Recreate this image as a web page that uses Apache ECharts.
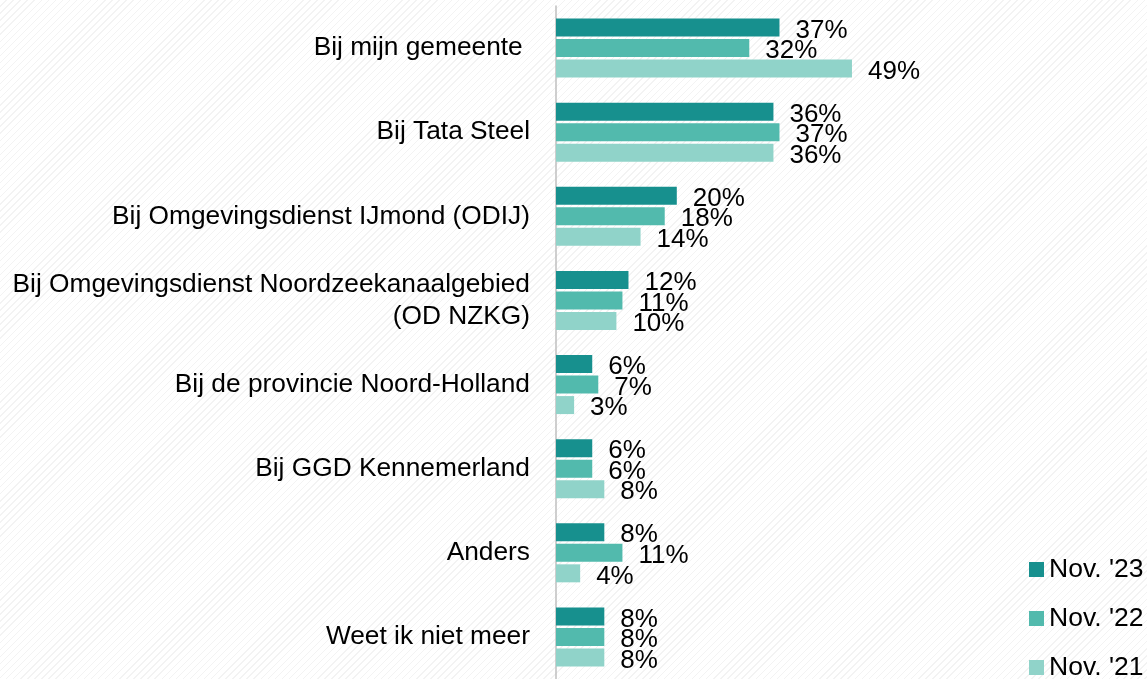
<!DOCTYPE html>
<html>
<head>
<meta charset="utf-8">
<script src="https://cdn.jsdelivr.net/npm/echarts@6/dist/echarts.min.js"></script>
<style>
html, body { margin: 0; padding: 0; }
body {
    background: #fff repeating-linear-gradient(135deg, #fff 0px, #fff 4px, #f3f3f3 4px, #f3f3f3 5px);
}
#main { width: 1147px; height: 679px; }
</style>
</head>
<body>
<div id="main"></div>
<script>
var categories = [
    'Bij mijn gemeente ',
    'Bij Tata Steel',
    'Bij Omgevingsdienst IJmond (ODIJ)',
    'Bij Omgevingsdienst Noordzeekanaalgebied\n(OD NZKG)',
    'Bij de provincie Noord-Holland',
    'Bij GGD Kennemerland',
    'Anders',
    'Weet ik niet meer'
];
var nov23 = [37, 36, 20, 12, 6, 6, 8, 8];
var nov22 = [32, 37, 18, 11, 7, 6, 11, 8];
var nov21 = [49, 36, 14, 10, 3, 8, 4, 8];
var seriesNames = ["Nov. '23", "Nov. '22", "Nov. '21"];
var colors = ['#17908e', '#52baad', '#90d3c9'];

var myChart = echarts.init(document.getElementById('main'));

function barSeries(name, data, color) {
    return {
        name: name,
        type: 'bar',
        data: data,
        barWidth: 18,
        barGap: '14%',
        itemStyle: { color: color },
        label: {
            show: true,
            position: 'right',
            distance: 16,
            offset: [0, 3],
            formatter: '{c}%',
            color: '#000',
            fontFamily: 'Liberation Sans, Arial',
            fontSize: 26
        }
    };
}

var option = {
    animation: false,
    color: colors,
    grid: { left: 556, top: 6, width: 302, bottom: -7 },
    legend: {
        orient: 'vertical',
        left: 1029,
        top: 556,
        height: 160,
        padding: 0,
        itemWidth: 15,
        itemHeight: 15,
        itemGap: 22,
        icon: 'rect',
        textStyle: { fontFamily: 'Liberation Sans, Arial', fontSize: 26.5, color: '#000' },
        data: seriesNames
    },
    xAxis: {
        type: 'value',
        min: 0,
        max: 50,
        show: false
    },
    yAxis: {
        type: 'category',
        inverse: true,
        data: categories,
        axisLine: { show: true, lineStyle: { color: '#bfbfbf', width: 1.5 } },
        axisTick: { show: false },
        axisLabel: {
            margin: 26,
            color: '#000',
            fontFamily: 'Liberation Sans, Arial',
            fontSize: 26.3,
            lineHeight: 32,
            align: 'right'
        }
    },
    series: [
        barSeries(seriesNames[0], nov23, colors[0]),
        barSeries(seriesNames[1], nov22, colors[1]),
        barSeries(seriesNames[2], nov21, colors[2])
    ]
};

myChart.setOption(option, true);
window.onresize = myChart.resize;
</script>
</body>
</html>
